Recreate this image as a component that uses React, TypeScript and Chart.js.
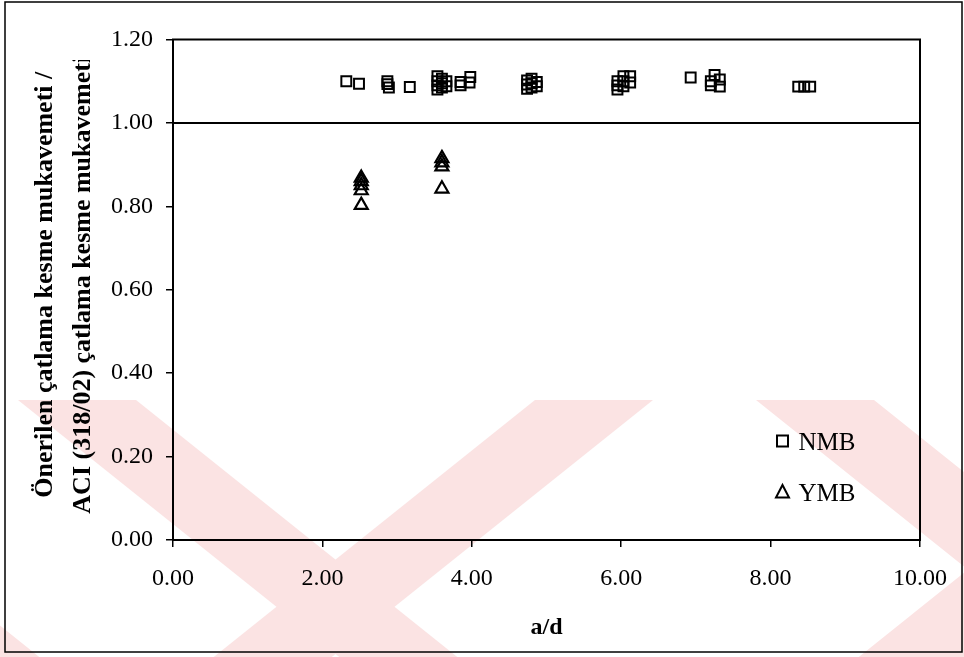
import React, { useEffect, useRef } from "react";
import { Chart, registerables } from "chart.js";
Chart.register(...registerables);

// ---- data ----
const nmbX = [2.32, 2.49, 2.87, 2.87, 2.89, 3.17, 3.54, 3.54, 3.54, 3.54, 3.6, 3.6, 3.6, 3.66, 3.66, 3.85, 3.85, 3.98, 3.97, 4.74, 4.74, 4.74, 4.8, 4.8, 4.8, 4.87, 4.87, 5.95, 5.95, 5.95, 6.03, 6.03, 6.03, 6.12, 6.12, 6.93, 7.2, 7.2, 7.25, 7.32, 7.32, 8.37, 8.45, 8.53];
const nmbY = [1.1, 1.094, 1.1, 1.093, 1.085, 1.086, 1.112, 1.1, 1.09, 1.08, 1.106, 1.095, 1.085, 1.1, 1.088, 1.098, 1.09, 1.11, 1.097, 1.102, 1.092, 1.082, 1.106, 1.095, 1.085, 1.098, 1.088, 1.1, 1.09, 1.08, 1.112, 1.1, 1.088, 1.112, 1.097, 1.109, 1.1, 1.09, 1.115, 1.104, 1.087, 1.087, 1.087, 1.087];
const ymbX = [2.52, 2.52, 2.52, 2.52, 2.52, 3.6, 3.6, 3.6, 3.6];
const ymbY = [0.868, 0.86, 0.85, 0.838, 0.803, 0.915, 0.905, 0.895, 0.842];
const refLineX = [0, 10];
const refLineY = [1, 1];
const xTicks = [0, 2, 4, 6, 8, 10];
const yTicks = [0, 0.2, 0.4, 0.6, 0.8, 1.0, 1.2];
const seriesNames = ["NMB", "YMB"];
const xTitle = "a/d";
const yTitleLines = ["Önerilen çatlama kesme mukavemeti /", "ACI (318/02) çatlama kesme mukavemeti"];

const SERIF = '"Liberation Serif", "Times New Roman", serif';

const watermarkPlugin = {
  id: "watermark",
  beforeDraw(chart: any) {
    const ctx = chart.ctx;
    const W = chart.width;
    const H = chart.height;
    ctx.save();
    ctx.fillStyle = "#ffffff";
    ctx.fillRect(0, 0, W, H);
    ctx.beginPath();
    ctx.rect(0, 400, W, H - 400);
    ctx.clip();
    ctx.fillStyle = "#fbe3e3";
    const top = 400;
    const depth = H - top;
    const k = 1 / 0.8; // dx per dy
    const down = [18, 756, -400];
    const up = [535, 1180];
    const bw = 118;
    for (const x0 of down) {
      ctx.beginPath();
      ctx.moveTo(x0, top);
      ctx.lineTo(x0 + bw, top);
      ctx.lineTo(x0 + bw + depth * k, H);
      ctx.lineTo(x0 + depth * k, H);
      ctx.closePath();
      ctx.fill();
    }
    for (const x0 of up) {
      ctx.beginPath();
      ctx.moveTo(x0, top);
      ctx.lineTo(x0 + bw, top);
      ctx.lineTo(x0 + bw - depth * k, H);
      ctx.lineTo(x0 - depth * k, H);
      ctx.closePath();
      ctx.fill();
    }
    ctx.restore();
  },
};

const decorPlugin = {
  id: "decor",
  afterDraw(chart: any) {
    const ctx = chart.ctx;
    const a = chart.chartArea;
    ctx.save();
    // plot box
    ctx.strokeStyle = "#000";
    ctx.lineWidth = 2;
    ctx.strokeRect(a.left, a.top, a.right - a.left, a.bottom - a.top);
    // outer frame
    ctx.lineWidth = 1.5;
    ctx.strokeRect(5, 2, chart.width - 7, chart.height - 7);

    // y title (clipped at top like the original)
    ctx.save();
    ctx.beginPath();
    ctx.rect(0, 60, 150, chart.height - 60);
    ctx.clip();
    ctx.translate(0, (a.top + a.bottom) / 2 - 5);
    ctx.rotate(-Math.PI / 2);
    ctx.fillStyle = "#000";
    ctx.font = `bold 26px ${SERIF}`;
    ctx.textAlign = "center";
    ctx.textBaseline = "alphabetic";
    ctx.fillText(yTitleLines[0], 0, 52);
    ctx.fillText(yTitleLines[1], 0, 90);
    ctx.restore();

    // legend inside plot
    const sx = a.right - 137.5;
    const sy1 = a.bottom - 99;
    const sy2 = a.bottom - 48;
    ctx.lineWidth = 2;
    ctx.strokeStyle = "#000";
    ctx.strokeRect(sx - 5.5, sy1 - 5.5, 11, 11);
    ctx.beginPath();
    ctx.moveTo(sx, sy2 - 7);
    ctx.lineTo(sx + 6.5, sy2 + 5.5);
    ctx.lineTo(sx - 6.5, sy2 + 5.5);
    ctx.closePath();
    ctx.stroke();
    ctx.fillStyle = "#000";
    ctx.font = `25px ${SERIF}`;
    ctx.textAlign = "left";
    ctx.textBaseline = "alphabetic";
    ctx.fillText(seriesNames[0], sx + 16, sy1 + 8.5);
    ctx.fillText(seriesNames[1], sx + 16, sy2 + 8.5);
    ctx.restore();
  },
};

export default function App() {
  const ref = useRef<HTMLCanvasElement | null>(null);
  useEffect(() => {
    if (!ref.current) return;
    const tickFont = { family: SERIF, size: 24 };
    const chart = new Chart(ref.current, {
      type: "scatter",
      data: {
        datasets: [
          {
            label: seriesNames[0],
            data: nmbX.map((x, i) => ({ x, y: nmbY[i] })),
            pointStyle: "rect",
            pointRadius: 7,
            pointBorderWidth: 2,
            borderColor: "#000",
            backgroundColor: "rgba(0,0,0,0)",
          },
          {
            label: seriesNames[1],
            data: ymbX.map((x, i) => ({ x, y: ymbY[i] })),
            pointStyle: "triangle",
            pointRadius: 7.5,
            pointBorderWidth: 2.2,
            borderColor: "#000",
            backgroundColor: "rgba(0,0,0,0)",
          },
          {
            type: "line",
            label: "ref",
            data: refLineX.map((x, i) => ({ x, y: refLineY[i] })),
            borderColor: "#000",
            borderWidth: 2,
            pointRadius: 0,
            fill: false,
          } as any,
        ],
      },
      options: {
        animation: false,
        responsive: false,
        devicePixelRatio: 1,
        layout: { padding: { left: 0, top: 39.5, right: 42.5, bottom: 0 } },
        plugins: { legend: { display: false }, tooltip: { enabled: false } },
        scales: {
          x: {
            type: "linear",
            min: 0,
            max: 10,
            afterBuildTicks: (s: any) => {
              s.ticks = xTicks.map((v) => ({ value: v }));
            },
            afterFit: (s: any) => {
              s.height = 117;
            },
            ticks: {
              font: tickFont,
              color: "#000",
              padding: 17,
              maxRotation: 0,
              autoSkip: false,
              callback: (v: any) => Number(v).toFixed(2),
            },
            grid: { drawOnChartArea: false, drawTicks: true, tickLength: 7, color: "#000", lineWidth: 1.5 },
            border: { display: false },
            title: {
              display: true,
              text: xTitle,
              color: "#000",
              font: { family: SERIF, size: 24, weight: "bold" },
              padding: { top: 0, bottom: 15 },
            },
          },
          y: {
            type: "linear",
            min: 0,
            max: 1.2,
            afterBuildTicks: (s: any) => {
              s.ticks = yTicks.map((v) => ({ value: v }));
            },
            afterFit: (s: any) => {
              s.width = 173;
            },
            ticks: {
              font: tickFont,
              color: "#000",
              padding: 13,
              autoSkip: false,
              callback: (v: any) => Number(v).toFixed(2),
            },
            grid: { drawOnChartArea: false, drawTicks: true, tickLength: 7, color: "#000", lineWidth: 1.5 },
            border: { display: false },
          },
        },
      },
      plugins: [watermarkPlugin, decorPlugin],
    });
    return () => chart.destroy();
  }, []);
  return (
    <div style={{ position: "absolute", left: 0, top: 0, width: 964, height: 657 }}>
      <canvas ref={ref} width={964} height={657} style={{ width: 964, height: 657, display: "block" }} />
    </div>
  );
}
